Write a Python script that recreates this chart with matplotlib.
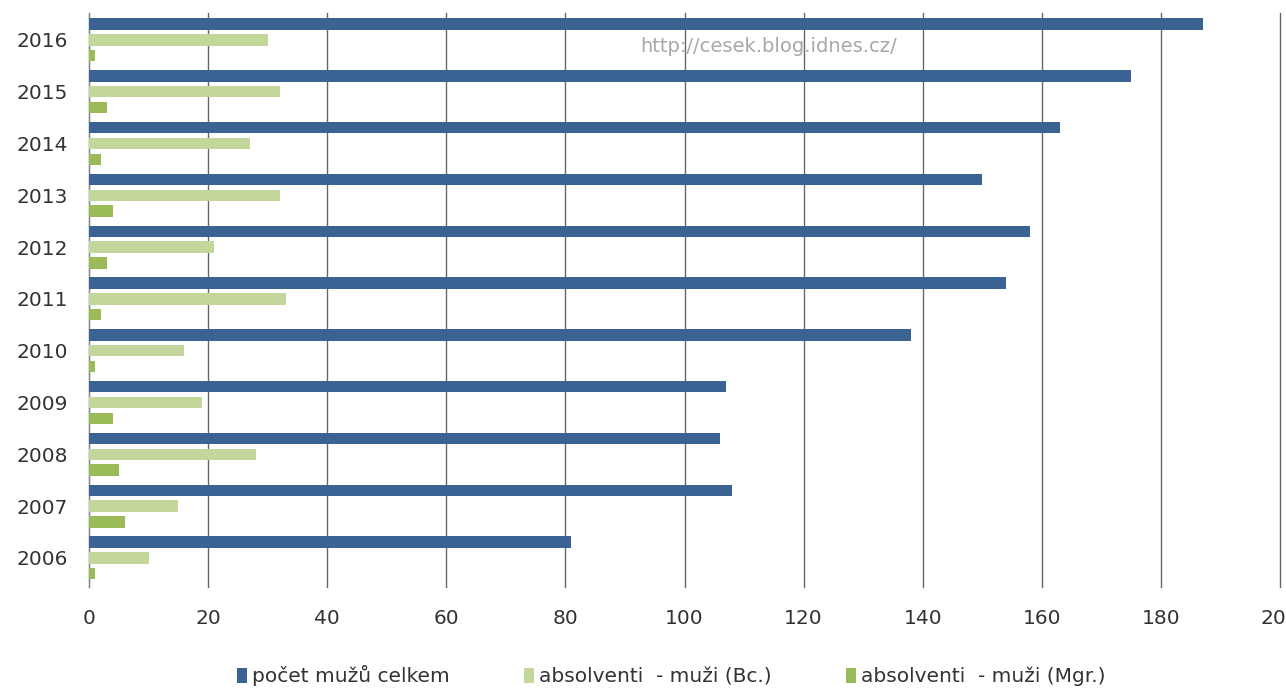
import matplotlib.pyplot as plt
import numpy as np

# data
roky = ['2006', '2007', '2008', '2009', '2010', '2011', '2012', '2013', '2014', '2015', '2016']
celkem = [81, 108, 106, 107, 138, 154, 158, 150, 163, 175, 187]
bc = [10, 15, 28, 19, 16, 33, 21, 32, 27, 32, 30]
mgr = [1, 6, 5, 4, 1, 2, 3, 4, 2, 3, 1]

serie_nazvy = ['počet mužů celkem', 'absolventi  - muži (Bc.)', 'absolventi  - muži (Mgr.)']
barvy = ['#3a6293', '#c3d69b', '#9bbb59']

plt.rcParams['font.family'] = ['DejaVu Sans']

fig = plt.figure(figsize=(12.86, 6.88), dpi=100)
ax = fig.add_axes([89 / 1286, 1 - 587 / 688, (1280 - 89) / 1286, (587 - 13) / 688])

ind = np.arange(len(roky))
h = 0.22
off = 0.305
p1 = ax.barh(ind + off, celkem, h, color=barvy[0], zorder=3)
p2 = ax.barh(ind, bc, h, color=barvy[1], zorder=3)
p3 = ax.barh(ind - off, mgr, h, color=barvy[2], zorder=3)

ax.set_xlim(0, 200)
ax.set_ylim(-0.56, 10.52)
ax.set_xticks(np.arange(0, 201, 20))
ax.set_yticks(ind)
ax.set_yticklabels(roky)
ax.xaxis.grid(True, color='#666666', linewidth=1.0, zorder=0)
for gl in ax.get_xgridlines():
    gl.set_clip_on(False)
for s in ['top', 'right', 'bottom']:
    ax.spines[s].set_visible(False)
ax.spines['left'].set_color('#888888')
ax.tick_params(axis='both', length=0, labelsize=14.5, colors='#333333')
ax.tick_params(axis='x', pad=16)
ax.tick_params(axis='y', pad=15)

# watermark
fig.text(640 / 1286, 1 - 47 / 688, 'http://cesek.blog.idnes.cz/', color='#a8a8a8',
         fontsize=14, va='center', ha='left')

fig.legend((p1[0], p2[0], p3[0]), serie_nazvy, loc='center', bbox_to_anchor=(0.522, 1 - 676 / 688),
           ncol=3, frameon=False, fontsize=14.5, handlelength=0.5, handleheight=0.75,
           handletextpad=0.25, columnspacing=3.7, labelcolor='#333333')

fig.savefig('out.png', dpi=100)
